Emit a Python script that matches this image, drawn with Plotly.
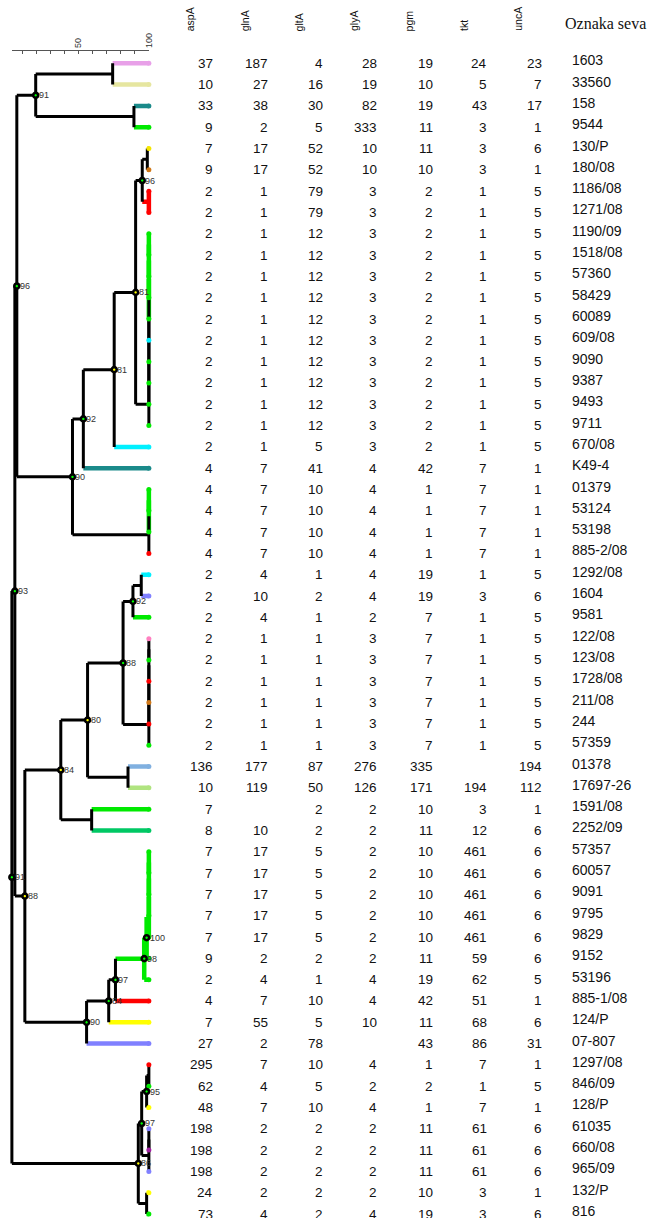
import plotly.graph_objects as go

W, H = 664, 1218

# ---------------- data ----------------
strains = ["1603", "33560", "158", "9544", "130/P", "180/08", "1186/08", "1271/08",
           "1190/09", "1518/08", "57360", "58429", "60089", "609/08", "9090", "9387",
           "9493", "9711", "670/08", "K49-4", "01379", "53124", "53198", "885-2/08",
           "1292/08", "1604", "9581", "122/08", "123/08", "1728/08", "211/08", "244",
           "57359", "01378", "17697-26", "1591/08", "2252/09", "57357", "60057", "9091",
           "9795", "9829", "9152", "53196", "885-1/08", "124/P", "07-807", "1297/08",
           "846/09", "128/P", "61035", "660/08", "965/09", "132/P", "816"]

genes = ["aspA", "glnA", "gltA", "glyA", "pgm", "tkt", "uncA"]

aspA = [37, 10, 33, 9, 7, 9, 2, 2, 2, 2, 2, 2, 2, 2, 2, 2, 2, 2, 2, 4, 4, 4, 4, 4,
        2, 2, 2, 2, 2, 2, 2, 2, 2, 136, 10, 7, 8, 7, 7, 7, 7, 7, 9, 2, 4, 7, 27,
        295, 62, 48, 198, 198, 198, 24, 73]
glnA = [187, 27, 38, 2, 17, 17, 1, 1, 1, 1, 1, 1, 1, 1, 1, 1, 1, 1, 1, 7, 7, 7, 7, 7,
        4, 10, 4, 1, 1, 1, 1, 1, 1, 177, 119, None, 10, 17, 17, 17, 17, 17, 2, 4, 7, 55, 2,
        7, 4, 7, 2, 2, 2, 2, 4]
gltA = [4, 16, 30, 5, 52, 52, 79, 79, 12, 12, 12, 12, 12, 12, 12, 12, 12, 12, 5, 41, 10, 10, 10, 10,
        1, 2, 1, 1, 1, 1, 1, 1, 1, 87, 50, 2, 2, 5, 5, 5, 5, 5, 2, 1, 10, 5, 78,
        10, 5, 10, 2, 2, 2, 2, 2]
glyA = [28, 19, 82, 333, 10, 10, 3, 3, 3, 3, 3, 3, 3, 3, 3, 3, 3, 3, 3, 4, 4, 4, 4, 4,
        4, 4, 2, 3, 3, 3, 3, 3, 3, 276, 126, 2, 2, 2, 2, 2, 2, 2, 2, 4, 4, 10, None,
        4, 2, 4, 2, 2, 2, 2, 4]
pgm = [19, 10, 19, 11, 11, 10, 2, 2, 2, 2, 2, 2, 2, 2, 2, 2, 2, 2, 2, 42, 1, 1, 1, 1,
       19, 19, 7, 7, 7, 7, 7, 7, 7, 335, 171, 10, 11, 10, 10, 10, 10, 10, 11, 19, 42, 11, 43,
       1, 2, 1, 11, 11, 11, 10, 19]
tkt = [24, 5, 43, 3, 3, 3, 1, 1, 1, 1, 1, 1, 1, 1, 1, 1, 1, 1, 1, 7, 7, 7, 7, 7,
       1, 3, 1, 1, 1, 1, 1, 1, 1, None, 194, 3, 12, 461, 461, 461, 461, 461, 59, 62, 51, 68, 86,
       7, 1, 7, 61, 61, 61, 3, 3]
uncA = [23, 7, 17, 1, 6, 1, 5, 5, 5, 5, 5, 5, 5, 5, 5, 5, 5, 5, 5, 1, 1, 1, 1, 1,
        5, 6, 5, 5, 5, 5, 5, 5, 5, 194, 112, 1, 6, 6, 6, 6, 6, 6, 6, 5, 1, 6, 31,
        1, 5, 1, 6, 6, 6, 1, 6]

scale_ticks = [10, 20, 30, 40, 50, 60, 70, 80, 90, 100]
scale_labels = ["", "", "", "", "50", "", "", "", "", "100"]

# ---------------- styles ----------------
G = "#00ea00"
RED = "#ff0000"
YEL = "#ffff00"
ORG = "#d07818"
CYN = "#00f0ff"
TEAL = "#1a8a8a"
BLU = "#8080ff"
leaf_colors = [
    "#e8a0e8", "#e6e6a0", TEAL, G, "#f5e600", ORG, RED, RED,
    G, G, G, G, G, CYN, G, G, G, G, CYN, TEAL, G, G, G, RED,
    CYN, BLU, G, "#ff80c0", G, RED, ORG, RED, G, "#80b0e0", "#b0e480",
    G, "#00c864", G, G, G, G, G, G, G, RED, YEL, BLU,
    RED, G, YEL, BLU, "#a020a0", BLU, YEL, G]
DOT = {"g": "#00ff00", "y": "#ffff00"}


# ---------------- tree (similarity of each join) ----------------
def N(sim, a, b, label=None, dot=None):
    return {"sim": sim, "kids": (a, b), "label": label, "dot": dot}


tree = N(2.8,
         N(4.9,
           N(6.3,
             N(19.7, N(74.3, 0, 1), N(89.4, 2, 3), "91", "g"),
             N(45.8,
               N(53.5,
                 N(75.4,
                   N(90.6,
                     N(95.3, N(98.9, 4, 5), N(100, 6, 7), "96", "g"),
                     N(100, N(100, N(100, N(100, N(100, N(100, N(100, N(100, N(100, 8, 9), 10), 11), 12), 13), 14), 15), 16), 17),
                     "81", "y"),
                   18, "81", "y"),
                 19, "92", "g"),
               N(100, N(100, N(100, 20, 21), 22), 23),
               "90", "g"),
             "96", "g"),
           N(12.0,
             N(37.5,
               N(56.5,
                 N(81.7,
                   N(88.7, N(94.6, 24, 25), 26, "92", "g"),
                   N(100, N(100, N(100, N(100, N(100, 27, 28), 29), 30), 31), 32),
                   "88", "g"),
                 N(85.2, 33, 34),
                 "80", "y"),
               N(59.4, 35, 36),
               "84", "y"),
             N(55.8,
               N(71.5,
                 N(76.3,
                   N(96.7,
                     N(98.4, N(100, N(100, N(100, N(100, 37, 38), 39), 40), 41), 42, "100", "g"),
                     43, "98", "g"),
                   44, "97", "g"),
                 45, "84", "g"),
               46, "90", "g"),
             "88", "y"),
           "93", "g"),
         N(92.5,
           N(94.9,
             N(98.4, N(100, 47, 48), 49, "95", "g"),
             N(100, N(100, 50, 51), 52),
             "97", "g"),
           N(98.4, 53, 54),
           "86", "y"),
         "91", "g")

segs = []
labelled = []


def walk(n):
    if isinstance(n, int):
        return {"x": 100.0, "y": float(n), "color": leaf_colors[n]}
    a = walk(n["kids"][0])
    b = walk(n["kids"][1])
    col = a["color"] if (a["color"] is not None and a["color"] == b["color"]) else None
    me = {"x": n["sim"], "y": (a["y"] + b["y"]) / 2.0, "color": col}
    segs.append((col, [n["sim"], n["sim"]], [a["y"], b["y"]]))
    for k in (a, b):
        segs.append((k["color"], [n["sim"], k["x"]], [k["y"], k["y"]]))
    if n["label"]:
        labelled.append((n["sim"], me["y"], n["label"], DOT[n["dot"]]))
    return me


walk(tree)

fig = go.Figure()

# coloured branches
by_col = {}
for col, xs, ys in segs:
    key = col if col is not None else "black"
    by_col.setdefault(key, ([], []))
    by_col[key][0].extend(xs + [None])
    by_col[key][1].extend(ys + [None])

for key, (xs, ys) in by_col.items():
    if key == "black":
        continue
    fig.add_trace(go.Scatter(x=xs, y=ys, mode="lines", line=dict(color=key, width=4.5),
                             hoverinfo="skip", showlegend=False, xaxis="x", yaxis="y"))
xs, ys = by_col["black"]
fig.add_trace(go.Scatter(x=xs, y=ys, mode="lines", line=dict(color="#000000", width=3),
                         hoverinfo="skip", showlegend=False, xaxis="x", yaxis="y"))

# leaf tips
fig.add_trace(go.Scatter(x=[100] * len(strains), y=list(range(len(strains))), mode="markers",
                         marker=dict(color=leaf_colors, size=5, line=dict(width=0)),
                         hoverinfo="skip", showlegend=False, cliponaxis=False))

# labelled nodes
fig.add_trace(go.Scatter(x=[p[0] for p in labelled], y=[p[1] for p in labelled], mode="markers",
                         marker=dict(color=[p[3] for p in labelled], size=5,
                                     line=dict(color="#000000", width=2.6)),
                         hoverinfo="skip", showlegend=False, cliponaxis=False))

annotations = []
for sx, sy, lab, _ in labelled:
    annotations.append(dict(x=sx, y=sy, xref="x", yref="y", text=lab, showarrow=False,
                            xanchor="left", yanchor="middle", xshift=3, borderpad=0, borderwidth=0,
                            font=dict(family="Liberation Sans, Arial", size=9, color="#333333")))

# scale axis helper trace
fig.add_trace(go.Scatter(x=[50], y=[0.5], mode="markers", marker=dict(opacity=0),
                         hoverinfo="skip", showlegend=False, xaxis="x2", yaxis="y2"))

# ---------------- table ----------------
col_right_px = [215, 270, 325.7, 380, 436, 490.7, 546]
head_center_px = [191.7, 246.7, 301.7, 356.7, 412, 467, 521.7]
name_left_px = 576.7
columns = [aspA, glnA, gltA, glyA, pgm, tkt, uncA]

for ci, vals in enumerate(columns):
    for ri, v in enumerate(vals):
        if v is None:
            continue
        annotations.append(dict(x=col_right_px[ci] / W, y=ri, xref="paper", yref="y", text=str(v),
                                showarrow=False, xanchor="right", yanchor="middle",
                                borderpad=0, borderwidth=0,
                                font=dict(family="Liberation Sans, Arial", size=13.5, color="#111111")))
    annotations.append(dict(x=head_center_px[ci] / W, y=1 - 31 / H, xref="paper", yref="paper",
                            text=genes[ci], showarrow=False, textangle=-90,
                            xanchor="center", yanchor="bottom", borderpad=0, borderwidth=0,
                            font=dict(family="Liberation Sans, Arial", size=10.5, color="#111111")))

for ri, name in enumerate(strains):
    annotations.append(dict(x=name_left_px / W, y=ri, xref="paper", yref="y", text=name,
                            showarrow=False, xanchor="left", yanchor="middle", yshift=3,
                            borderpad=0, borderwidth=0,
                            font=dict(family="Liberation Sans, Arial", size=14, color="#111111")))

annotations.append(dict(x=569 / W, y=1 - 24 / H, xref="paper", yref="paper", text="Oznaka seva",
                        showarrow=False, xanchor="left", yanchor="middle", borderpad=0, borderwidth=0,
                        font=dict(family="Liberation Serif, Times New Roman", size=16, color="#111111")))

# ---------------- layout ----------------
row0_px, row_px = 63.3, 21.31
y_top = -row0_px / row_px
y_bot = (H - row0_px) / row_px
px_per_unit, zero_px, dendro_w = 1.42, 8.0, 170.0
axis_line_px = 50.7

fig.update_layout(
    width=W, height=H, margin=dict(l=0, r=0, t=0, b=0),
    paper_bgcolor="white", plot_bgcolor="rgba(0,0,0,0)",
    xaxis=dict(domain=[0, dendro_w / W], range=[-zero_px / px_per_unit, (dendro_w - zero_px) / px_per_unit],
               visible=False, fixedrange=True),
    yaxis=dict(domain=[0, 1], range=[y_bot, y_top], visible=False, fixedrange=True),
    xaxis2=dict(domain=[12 / W, 150 / W], range=[(12 - zero_px) / px_per_unit, 100], anchor="y2", side="top",
                showline=True, linecolor="#555555", linewidth=1, ticks="inside", ticklen=3,
                tickwidth=1, tickcolor="#555555", tickvals=scale_ticks, ticktext=scale_labels,
                tickangle=-90, tickfont=dict(family="Liberation Sans, Arial", size=9, color="#333333"),
                showgrid=False, zeroline=False, fixedrange=True),
    yaxis2=dict(domain=[0, 1 - axis_line_px / H], range=[0, 1], visible=False, fixedrange=True),
    annotations=annotations,
    showlegend=False,
)

fig.write_html("out.html", config={"displayModeBar": False, "staticPlot": True},
               post_script="document.body.style.margin='0';document.body.style.overflow='hidden';")
